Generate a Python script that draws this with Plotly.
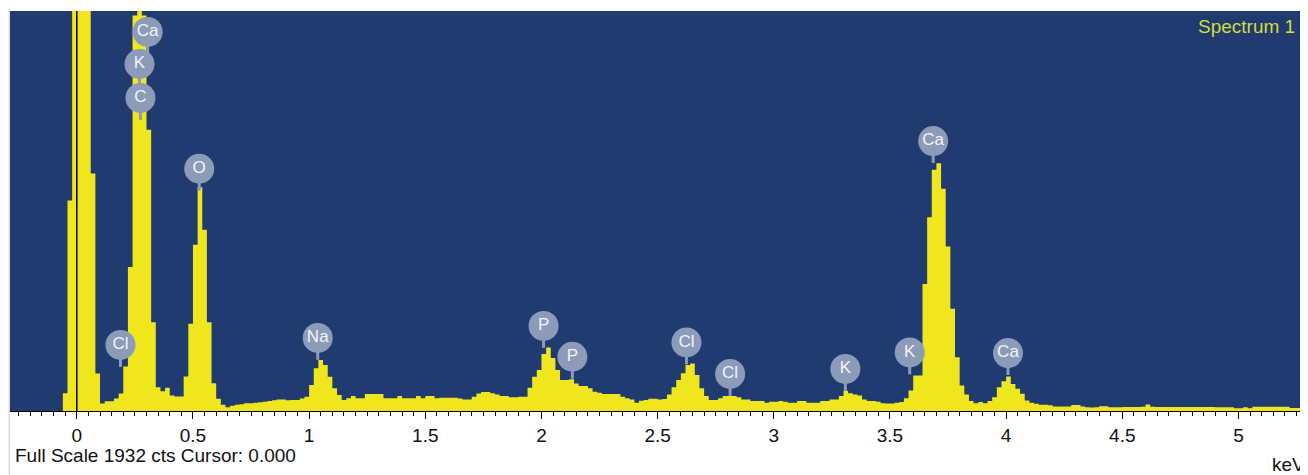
import plotly.graph_objects as go

# ---------------- data ----------------
bin_start_kev = -0.28      # left edge of first channel (keV)
bin_width_kev = 0.02       # channel width (keV)

# counts per 0.02 keV channel (rows of 10 channels)
counts = [
    0, 0, 0, 0, 0, 0, 0, 0, 0, 0,                      # -0.28 .. -0.10
    0, 86, 1017, 4200, 5600, 5900, 4800, 1147, 181, 36,  # -0.08 .. 0.10
    47, 47, 60, 84, 215, 695, 1910, 1990, 1910, 1358,  # 0.12 .. 0.30
    429, 115, 95, 112, 75, 70, 70, 167, 421, 803,      # 0.32 .. 0.50
    1081, 876, 429, 134, 59, 30, 18, 25, 30, 33,       # 0.52 .. 0.70
    37, 38, 40, 42, 45, 48, 52, 56, 55, 52,            # 0.72 .. 0.90
    53, 53, 60, 69, 126, 206, 246, 222, 166, 110,      # 0.92 .. 1.10
    77, 53, 61, 72, 61, 61, 82, 82, 82, 82,            # 1.12 .. 1.30
    61, 61, 61, 72, 61, 61, 61, 72, 61, 72,            # 1.32 .. 1.50
    72, 61, 64, 64, 64, 64, 60, 56, 56, 69,            # 1.52 .. 1.70
    85, 92, 92, 86, 80, 72, 72, 66, 66, 69,            # 1.72 .. 1.90
    69, 112, 165, 198, 275, 307, 256, 198, 150, 150,   # 1.92 .. 2.10
    153, 133, 121, 121, 110, 93, 88, 82, 82, 82,       # 2.12 .. 2.30
    82, 69, 62, 56, 40, 50, 53, 59, 59, 56,            # 2.32 .. 2.50
    58, 80, 115, 150, 182, 222, 230, 174, 110, 72,     # 2.52 .. 2.70
    53, 53, 61, 72, 72, 72, 66, 56, 56, 48,            # 2.72 .. 2.90
    48, 48, 40, 45, 45, 48, 45, 40, 40, 48,            # 2.92 .. 3.10
    48, 40, 40, 40, 48, 48, 56, 56, 72, 98,            # 3.12 .. 3.30
    86, 80, 75, 56, 48, 48, 45, 38, 36, 36,            # 3.32 .. 3.50
    40, 43, 62, 99, 171, 171, 614, 936, 1165, 1197,    # 3.52 .. 3.70
    1073, 795, 494, 260, 123, 80, 48, 38, 43, 38,      # 3.72 .. 3.90
    48, 67, 115, 144, 167, 131, 107, 83, 51, 40,       # 3.92 .. 4.10
    35, 30, 30, 28, 22, 22, 22, 22, 29, 29,            # 4.12 .. 4.30
    22, 18, 17, 18, 23, 23, 18, 18, 18, 19,            # 4.32 .. 4.50
    19, 19, 19, 20, 31, 20, 19, 19, 19, 19,            # 4.52 .. 4.70
    19, 19, 19, 19, 19, 19, 19, 19, 19, 18,            # 4.72 .. 4.90
    18, 18, 18, 13, 13, 18, 13, 20, 20, 20,            # 4.92 .. 5.10
    20, 20, 20, 20, 20, 15, 15, 15, 20,                # 5.12 .. 5.28
]

full_scale_cts = 1932
x_min_kev = -0.2875
x_max_kev = 5.295

# element peak labels
label_text = ["Ca", "K", "C", "O", "Cl", "Na", "P", "P", "Cl", "Cl", "K", "K", "Ca", "Ca"]
label_kev = [0.305, 0.270, 0.274, 0.527, 0.188, 1.037, 2.009, 2.133, 2.624, 2.812, 3.308, 3.585, 3.686, 4.008]
label_cts = [1831, 1676, 1512, 1170, 319, 353, 411, 262, 331, 179, 203, 283, 1304, 280]

tick_vals = [0, 0.5, 1, 1.5, 2, 2.5, 3, 3.5, 4, 4.5, 5]
tick_text = ["0", "0.5", "1", "1.5", "2", "2.5", "3", "3.5", "4", "4.5", "5"]

# ---------------- styles ----------------
BG_BLUE = "#1f3b70"
BAR_YELLOW = "#f0e61e"
LABEL_GREY = "#8c9bb8"
FONT = "Liberation Sans, Arial, sans-serif"
STEM_CTS = 106

# channel edges -> filled step outline (one flat top per channel)
edges = [bin_start_kev + bin_width_kev * i for i in range(len(counts) + 1)]
step_y = counts + [counts[-1]]

fig = go.Figure()
fig.add_trace(go.Scatter(
    x=edges, y=step_y, mode="lines", line_shape="hv",
    line=dict(color=BAR_YELLOW, width=0),
    fill="tozeroy", fillcolor=BAR_YELLOW,
    hoverinfo="skip", showlegend=False,
))

# stems
sx, sy = [], []
for k, c in zip(label_kev, label_cts):
    sx += [k, k, None]
    sy += [c, c - STEM_CTS, None]
fig.add_trace(go.Scatter(
    x=sx, y=sy, mode="lines",
    line=dict(color=LABEL_GREY, width=3),
    hoverinfo="skip", showlegend=False, cliponaxis=False,
))
# label bubbles
fig.add_trace(go.Scatter(
    x=label_kev, y=label_cts, mode="markers+text",
    text=label_text, textposition="middle center",
    marker=dict(symbol="circle", size=30, color=LABEL_GREY, line=dict(width=0)),
    textfont=dict(family=FONT, size=17, color="#f2f5fa"),
    hoverinfo="skip", showlegend=False, cliponaxis=False,
))

fig.update_layout(
    width=1300, height=467, autosize=False,
    margin=dict(l=2, r=1, t=3, b=64),
    paper_bgcolor="white", plot_bgcolor=BG_BLUE,
    showlegend=False,
    font=dict(family=FONT, color="#111111"),
    xaxis=dict(
        range=[x_min_kev, x_max_kev],
        tickvals=tick_vals, ticktext=tick_text,
        ticks="outside", ticklen=7, tickwidth=1, tickcolor="black",
        showline=True, linecolor="black", linewidth=1,
        showgrid=False, zeroline=False,
        tickfont=dict(family=FONT, size=19, color="#111111"),
        minor=dict(dtick=0.05, tick0=0, ticks="outside", ticklen=4,
                   tickwidth=1, tickcolor="black", showgrid=False),
    ),
    yaxis=dict(range=[0, full_scale_cts], visible=False, showgrid=False, zeroline=False),
    shapes=[
        dict(type="line", xref="x", yref="paper", x0=0, x1=0, y0=0, y1=1,
             line=dict(color="black", width=1.5), layer="above"),
        dict(type="line", xref="paper", yref="paper", x0=-0.0006, x1=-0.0006, y0=-0.16, y1=1,
             line=dict(color="#c8c8c8", width=1), layer="above"),
    ],
    annotations=[
        dict(text="Spectrum 1", xref="paper", yref="paper", x=0.9925, y=0.962,
             xanchor="right", yanchor="middle", showarrow=False,
             font=dict(family=FONT, size=19, color="#d2dc41")),
        dict(text=f"Full Scale {full_scale_cts} cts Cursor: 0.000", xref="paper", yref="paper",
             x=0.002, y=-0.111, xanchor="left", yanchor="middle", showarrow=False,
             font=dict(family=FONT, size=19, color="#111111")),
        dict(text="keV", xref="paper", yref="paper", x=1.0, y=-0.134,
             xanchor="right", yanchor="middle", showarrow=False,
             font=dict(family=FONT, size=19, color="#111111")),
    ],
)

fig.write_html("out.html")
